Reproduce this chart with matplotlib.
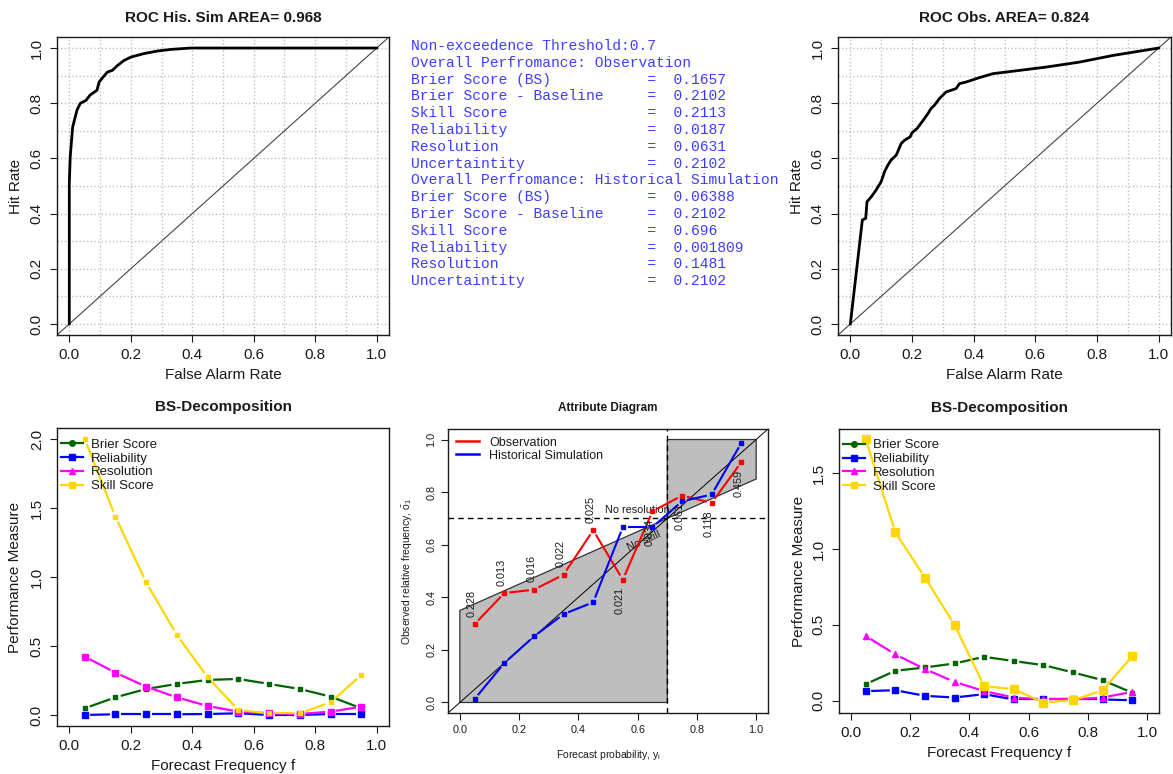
import numpy as np
import matplotlib
matplotlib.use("Agg")
import matplotlib.pyplot as plt
from matplotlib.lines import Line2D
from matplotlib.patches import Polygon

plt.rcParams["font.family"] = ["Liberation Sans", "DejaVu Sans"]
plt.rcParams["text.color"] = "#1a1a1a"
plt.rcParams["axes.labelcolor"] = "#1a1a1a"
plt.rcParams["xtick.color"] = "#1a1a1a"
plt.rcParams["ytick.color"] = "#1a1a1a"

# ROC curves (false alarm rate, hit rate)
roc_sim_far = [0, 0, 0.003, 0.011, 0.025, 0.036, 0.054, 0.068, 0.09, 0.097, 0.114,
               0.124, 0.14, 0.157, 0.178, 0.2, 0.243, 0.286, 0.33, 0.395, 1.0]
roc_sim_hit = [0, 0.51, 0.606, 0.714, 0.775, 0.8, 0.81, 0.83, 0.847, 0.877, 0.9,
               0.913, 0.919, 0.937, 0.955, 0.967, 0.98, 0.989, 0.995, 1.0, 1.0]
roc_obs_far = [0, 0.039, 0.05, 0.054, 0.068, 0.084, 0.1, 0.111, 0.122, 0.132, 0.149,
               0.165, 0.176, 0.194, 0.2, 0.216, 0.233, 0.252, 0.262, 0.273, 0.289,
               0.311, 0.343, 0.354, 0.376, 0.419, 0.462, 0.527, 0.635, 0.743, 0.851, 1.0]
roc_obs_hit = [0, 0.377, 0.383, 0.443, 0.461, 0.486, 0.516, 0.552, 0.576, 0.594, 0.612,
               0.654, 0.666, 0.678, 0.693, 0.708, 0.733, 0.763, 0.781, 0.793, 0.817,
               0.841, 0.853, 0.871, 0.877, 0.893, 0.907, 0.916, 0.931, 0.949, 0.973, 1.0]
roc_sim_title = "ROC His. Sim AREA= 0.968"
roc_obs_title = "ROC Obs. AREA= 0.824"

# summary text
threshold = 0.7
obs_scores = [("Brier Score (BS)", "0.1657"), ("Brier Score - Baseline", "0.2102"),
              ("Skill Score", "0.2113"), ("Reliability", "0.0187"),
              ("Resolution", "0.0631"), ("Uncertaintity", "0.2102")]
sim_scores = [("Brier Score (BS)", "0.06388"), ("Brier Score - Baseline", "0.2102"),
              ("Skill Score", "0.696"), ("Reliability", "0.001809"),
              ("Resolution", "0.1481"), ("Uncertaintity", "0.2102")]

# BS decomposition per forecast bin
bins = [0.05, 0.15, 0.25, 0.35, 0.45, 0.55, 0.65, 0.75, 0.85, 0.95]
sim_brier = [0.048, 0.128, 0.188, 0.225, 0.254, 0.261, 0.225, 0.188, 0.133, 0.048]
sim_rel = [0.0, 0.005, 0.005, 0.005, 0.007, 0.012, 0.0, 0.0, 0.007, 0.007]
sim_res = [0.423, 0.307, 0.205, 0.128, 0.065, 0.024, 0.012, 0.007, 0.024, 0.06]
sim_skill = [2.0, 1.437, 0.961, 0.58, 0.273, 0.036, 0.012, 0.012, 0.092, 0.29]
obs_brier = [0.11, 0.198, 0.22, 0.246, 0.29, 0.262, 0.235, 0.187, 0.136, 0.053]
obs_rel = [0.064, 0.07, 0.033, 0.022, 0.044, 0.009, 0.009, 0.009, 0.009, 0.004]
obs_res = [0.427, 0.306, 0.209, 0.125, 0.064, 0.022, 0.009, 0.009, 0.022, 0.059]
obs_skill = [1.724, 1.11, 0.812, 0.5, 0.097, 0.077, -0.011, 0.004, 0.07, 0.295]

# attribute diagram
attr_obs = [0.298, 0.416, 0.429, 0.486, 0.655, 0.467, 0.727, 0.787, 0.759, 0.914]
attr_sim = [0.013, 0.15, 0.251, 0.336, 0.381, 0.667, 0.667, 0.765, 0.791, 0.987]
bin_freq = ["0.228", "0.013", "0.016", "0.022", "0.025", "0.021", "0.034", "0.061", "0.118", "0.459"]

W, H = 1173, 774
fig = plt.figure(figsize=(W / 100, H / 100), dpi=100)


def add_ax(left, top, right, bottom):
    return fig.add_axes([left / W, 1 - bottom / H, (right - left) / W, (bottom - top) / H])


def r_style(ax, fs=11, pad=4.5):
    for s in ax.spines.values():
        s.set_linewidth(1.0)
        s.set_color("#1a1a1a")
    ax.tick_params(direction="out", length=5, width=0.8, labelsize=fs, pad=pad)
    ax.tick_params(axis="y", labelrotation=90)
    for t in ax.get_yticklabels():
        t.set_va("center")


def label_at(ax, xl, yl, xpos, ypos, fs=11):
    ax.set_xlabel(xl, fontsize=fs)
    ax.set_ylabel(yl, fontsize=fs)
    ax.xaxis.set_label_coords(0.5, xpos)
    ax.yaxis.set_label_coords(ypos, 0.5)
    ax.xaxis.label.set_va("center")
    ax.yaxis.label.set_va("center")


def type_b(ax, x, y, color, marker, ms, gap=5.5, lw=1.6):
    # R style type="b": points joined by lines that stop short of each point
    pts = ax.transData.transform(np.column_stack([x, y]))
    inv = ax.transData.inverted()
    for p, q in zip(pts[:-1], pts[1:]):
        d = q - p
        L = np.hypot(*d)
        if L <= 2 * gap:
            continue
        u = d / L
        seg = inv.transform(np.array([p + u * gap, q - u * gap]))
        ax.plot(seg[:, 0], seg[:, 1], color=color, lw=lw, solid_capstyle="butt")
    ax.plot(x, y, ls="none", marker=marker, ms=ms, color=color, mec=color)


# ---- ROC panels
def roc_panel(ax, far, hit, title):
    ax.set_xlim(-0.04, 1.04)
    ax.set_ylim(-0.04, 1.04)
    ticks = np.arange(0, 1.01, 0.2)
    ax.set_xticks(ticks)
    ax.set_yticks(ticks)
    ax.set_xticklabels([f"{t:.1f}" for t in ticks])
    ax.set_yticklabels([f"{t:.1f}" for t in ticks])
    minor = np.arange(0, 1.01, 0.1)
    ax.set_xticks(minor, minor=True)
    ax.set_yticks(minor, minor=True)
    ax.tick_params(which="minor", length=0)
    ax.grid(which="both", ls=":", color="#c0c0c0", lw=1.0)
    ax.set_axisbelow(True)
    ax.axline((0, 0), (1, 1), color="#444444", lw=0.8)
    ax.plot(far, hit, color="black", lw=2)
    ax.set_title(title, fontsize=11, fontweight="bold", pad=11)
    r_style(ax)
    label_at(ax, "False Alarm Rate", "Hit Rate", -0.134, -0.123)


ax1 = add_ax(57, 37, 389, 335)
roc_panel(ax1, roc_sim_far, roc_sim_hit, roc_sim_title)
ax3 = add_ax(838, 37, 1171, 335)
roc_panel(ax3, roc_obs_far, roc_obs_hit, roc_obs_title)

# ---- summary text block
lines = [f"Non-exceedence Threshold:{threshold}", "Overall Perfromance: Observation"]
lines += [f"{k.ljust(27)}=  {v}" for k, v in obs_scores]
lines += ["Overall Perfromance: Historical Simulation"]
lines += [f"{k.ljust(27)}=  {v}" for k, v in sim_scores]
for i, ln in enumerate(lines):
    fig.text(411 / W, 1 - (46 + i * 16.8) / H, ln, family="Liberation Mono",
             fontsize=10.5, color="#3d3dff", va="center", ha="left")


# ---- BS decomposition panels
def bs_panel(ax, brier, rel, res, skill, ylim, yticks, skill_ms, xlab_pos):
    ax.set_xlim(-0.04, 1.04)
    ax.set_ylim(*ylim)
    xt = np.arange(0, 1.01, 0.2)
    ax.set_xticks(xt)
    ax.set_xticklabels([f"{t:.1f}" for t in xt])
    ax.set_yticks(yticks)
    ax.set_yticklabels([f"{t:.1f}" for t in yticks])
    type_b(ax, bins, brier, "#006400", "s", 3.5)
    type_b(ax, bins, rel, "#0000ff", "s", 4)
    type_b(ax, bins, res, "#ff00ff", "^" if skill_ms > 5 else "s", 4)
    type_b(ax, bins, skill, "#ffd700", "s", skill_ms)
    ax.set_title("BS-Decomposition", fontsize=11, fontweight="bold", pad=12)
    handles = [Line2D([], [], color="#006400", marker="o", ms=4, lw=1.6),
               Line2D([], [], color="#0000ff", marker="s", ms=4, lw=1.6),
               Line2D([], [], color="#ff00ff", marker="^", ms=4, lw=1.6),
               Line2D([], [], color="#ffd700", marker="s", ms=5, lw=1.6)]
    ax.legend(handles, ["Brier Score", "Reliability", "Resolution", "Skill Score"],
              loc="upper left", bbox_to_anchor=(0, 0.978), frameon=False, fontsize=9.5,
              handlelength=1.7, handletextpad=0.6, labelspacing=0.12, borderpad=0.1,
              borderaxespad=0.2)
    r_style(ax)
    label_at(ax, "Forecast Frequency f", "Performance Measure", xlab_pos, -0.125)


ax4 = add_ax(57, 428, 389, 726)
bs_panel(ax4, sim_brier, sim_rel, sim_res, sim_skill, (-0.08, 2.08),
         np.arange(0, 2.01, 0.5), 3.5, -0.135)
ax6 = add_ax(839, 429, 1159, 713)
bs_panel(ax6, obs_brier, obs_rel, obs_res, obs_skill, (-0.08, 1.79),
         np.arange(0, 1.51, 0.5), 6, -0.14)

# ---- attribute diagram
ax5 = add_ax(448, 429, 768, 713)
ax5.set_xlim(-0.04, 1.04)
ax5.set_ylim(-0.04, 1.04)
t5 = np.arange(0, 1.01, 0.2)
ax5.set_xticks(t5)
ax5.set_yticks(t5)
ax5.set_xticklabels([f"{t:.1f}" for t in t5])
ax5.set_yticklabels([f"{t:.1f}" for t in t5])
ob = threshold
ax5.add_patch(Polygon([(0, 0), (ob, 0), (ob, ob), (0, ob / 2)], closed=True,
                      facecolor="#bebebe", edgecolor="#333333", lw=0.9, zorder=1))
ax5.add_patch(Polygon([(ob, ob), (1, (1 + ob) / 2), (1, 1), (ob, 1)], closed=True,
                      facecolor="#bebebe", edgecolor="#333333", lw=0.9, zorder=1))
ax5.axline((0, 0), (1, 1), color="black", lw=0.7, zorder=2)
ax5.axhline(ob, color="black", ls="--", lw=1, dashes=(4, 3), zorder=2)
ax5.axvline(ob, color="black", ls="--", lw=1, dashes=(4, 3), zorder=2)
ax5.text(0.6, 0.733, "No resolution", fontsize=7.8, ha="center", va="center",
         color="#1a1a1a", zorder=2)
ax5.text(0.62, 0.615, "No skill", fontsize=7.8, ha="center", va="center",
         rotation=24, color="#1a1a1a", zorder=2)
type_b(ax5, bins, attr_obs, "red", "s", 3.5, gap=5, lw=1.5)
type_b(ax5, bins, attr_sim, "blue", "s", 3.5, gap=5, lw=1.5)
for x, y, f in zip(bins, attr_obs, bin_freq):
    off = 15 if x < 0.5 else -15
    ax5.annotate(f, (x, y), xytext=(-2, off), textcoords="offset points",
                 rotation=90, ha="center", va="center", fontsize=7.8,
                 color="#1a1a1a", zorder=3)
ax5.legend([Line2D([], [], color="red", lw=1.8), Line2D([], [], color="blue", lw=1.8)],
           ["Observation", "Historical Simulation"], loc="upper left", frameon=False,
           fontsize=9, handlelength=1.9, handletextpad=0.8, labelspacing=0.1,
           borderpad=0.3, borderaxespad=0.3)
ax5.set_title("Attribute Diagram", fontsize=8.5, fontweight="bold", pad=13)
r_style(ax5, fs=7.8, pad=3.5)
label_at(ax5, "Forecast probability, y$_\\mathregular{i}$",
         "Observed relative frequency, $\\mathregular{\\bar{o}_1}$", -0.148, -0.125, fs=7.5)

fig.savefig("out.png", dpi=100)
